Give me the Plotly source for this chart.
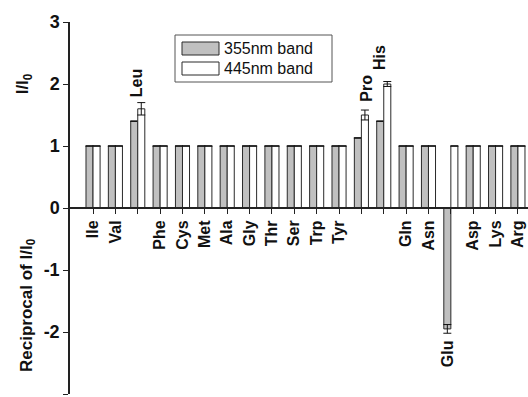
import plotly.graph_objects as go

categories = ["Ile", "Val", "Leu", "Phe", "Cys", "Met", "Ala", "Gly", "Thr", "Ser",
              "Trp", "Tyr", "Pro", "His", "Gln", "Asn", "Glu", "Asp", "Lys", "Arg"]
band355 = [1, 1, 1.4, 1, 1, 1, 1, 1, 1, 1, 1, 1, 1.13, 1.4, 1, 1, -1.95, 1, 1, 1]
band355_err = [0, 0, 0, 0, 0, 0, 0, 0, 0, 0, 0, 0, 0, 0, 0, 0, 0.07, 0, 0, 0]
band445 = [1, 1, 1.6, 1, 1, 1, 1, 1, 1, 1, 1, 1, 1.5, 2.0, 1, 1, 1, 1, 1, 1]
band445_err = [0, 0, 0.1, 0, 0, 0, 0, 0, 0, 0, 0, 0, 0.08, 0.04, 0, 0, 0, 0, 0, 0]
series_names = ["355nm band", "445nm band"]
series_colors = ["#c0c0c0", "#ffffff"]
hidden_ticklabels = ["Leu", "Pro", "His", "Glu"]
yticks = [3, 2, 1, 0, -1, -2, -3]
yticklabels = ["3", "2", "1", "0", "-1", "-2", "-3"]

FONT = "Liberation Sans, Arial, sans-serif"
EDGE = "#2a2a2a"

labeled = [c for c in categories if c not in hidden_ticklabels]

fig = go.Figure()
fig.add_trace(go.Bar(
    x=categories, y=band355, name=series_names[0],
    marker=dict(color=series_colors[0], line=dict(color=EDGE, width=1)),
    error_y=dict(type="data", array=band355_err, color="#111", thickness=1, width=4),
))
fig.add_trace(go.Bar(
    x=categories, y=band445, name=series_names[1],
    marker=dict(color=series_colors[1], line=dict(color=EDGE, width=1)),
    error_y=dict(type="data", array=band445_err, color="#111", thickness=1, width=4),
))
# invisible helper trace on the label axis so its categories line up
fig.add_trace(go.Scatter(x=categories, y=[None] * len(categories), xaxis="x2",
                         mode="markers", showlegend=False, hoverinfo="skip"))

fig.update_layout(
    width=528, height=397,
    margin=dict(l=70, r=0, t=22, b=3),
    paper_bgcolor="white", plot_bgcolor="white",
    barmode="group", bargap=0.37, bargroupgap=0,
    showlegend=False,
    font=dict(family=FONT, color="#111"),
    xaxis=dict(
        range=[-1.03, 19.45], anchor="free", position=0.5,
        type="category", categoryorder="array", categoryarray=categories,
        tickmode="array", tickvals=categories, showticklabels=False,
        ticks="outside", ticklen=5, tickwidth=1, tickcolor="#222",
        showline=True, linecolor="#222", linewidth=1.5, showgrid=False, zeroline=False,
    ),
    xaxis2=dict(
        range=[-1.03, 19.45], anchor="free", position=0.5, overlaying="x", side="bottom",
        type="category", categoryorder="array", categoryarray=categories,
        tickmode="array", tickvals=labeled, ticks="outside", ticklen=5, tickcolor="rgba(0,0,0,0)",
        tickangle=-90, showline=False, showgrid=False, zeroline=False,
        tickfont=dict(family=FONT, size=16, weight="bold", color="#111"),
    ),
    yaxis=dict(
        range=[-3, 3], tickmode="array", tickvals=yticks, ticktext=yticklabels,
        ticks="outside", ticklen=5, tickwidth=1,
        tickcolor="#222", showline=True, linecolor="#222", linewidth=1.5,
        showgrid=False, zeroline=False,
        tickfont=dict(family=FONT, size=18, weight="bold", color="#111"),
    ),
)

# custom legend (wide swatches like the reference)
def px_x(p):
    return (p - 70) / 458.0

def px_y(p):
    return (394 - p) / 372.0

fig.add_shape(type="rect", xref="paper", yref="paper",
              x0=px_x(175), x1=px_x(332), y0=px_y(82), y1=px_y(35),
              line=dict(color="#555", width=1), fillcolor="white", layer="above")
for i, (nm, col) in enumerate(zip(series_names, series_colors)):
    top = 42 + i * 20
    fig.add_shape(type="rect", xref="paper", yref="paper",
                  x0=px_x(182), x1=px_x(219), y0=px_y(top + 13), y1=px_y(top),
                  line=dict(color=EDGE, width=1), fillcolor=col, layer="above")
    fig.add_annotation(text=nm, x=px_x(222), y=px_y(top + 6.5), xref="paper", yref="paper",
                       xanchor="left", yanchor="middle", showarrow=False,
                       font=dict(family=FONT, size=16, color="#111"))

anns = [
    dict(text="Leu", x=1.98, y=1.76, yanchor="bottom"),
    dict(text="Pro", x=12.25, y=1.69, yanchor="bottom"),
    dict(text="His", x=12.8, y=2.19, yanchor="bottom"),
    dict(text="Glu", x=15.85, y=-2.1, yanchor="top"),
]
for a in anns:
    fig.add_annotation(text=a["text"], x=a["x"], y=a["y"], xref="x", yref="y",
                       xanchor="center", yanchor=a["yanchor"], textangle=-90,
                       showarrow=False,
                       font=dict(family=FONT, size=16, weight="bold", color="#111"))

fig.add_annotation(text="I/I<sub>0</sub>", x=-0.1, y=0.833, xref="paper", yref="paper",
                   xanchor="center", yanchor="middle", textangle=-90, showarrow=False,
                   font=dict(family=FONT, size=17, weight="bold", color="#111"))
fig.add_annotation(text="Reciprocal of I/I<sub>0</sub>", x=-0.092, y=0.239,
                   xref="paper", yref="paper",
                   xanchor="center", yanchor="middle", textangle=-90, showarrow=False,
                   font=dict(family=FONT, size=17, weight="bold", color="#111"))

fig.write_html("out.html")
